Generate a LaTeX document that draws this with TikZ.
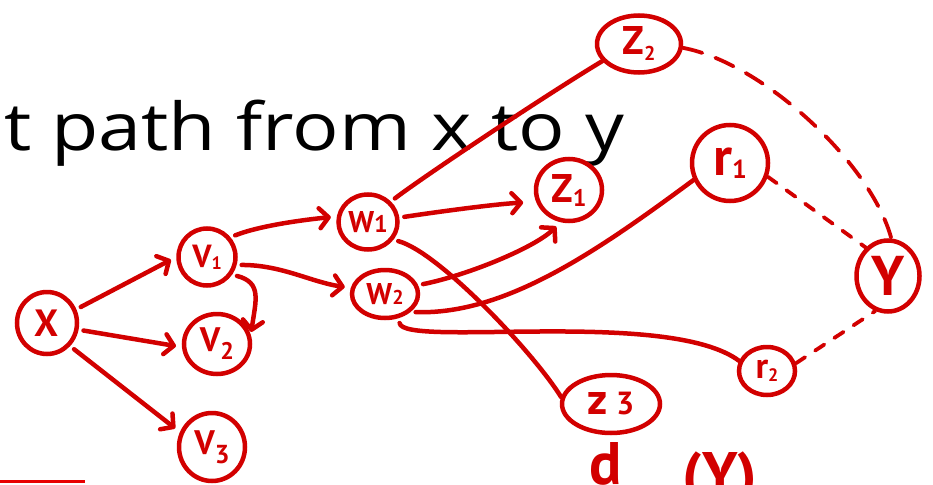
\documentclass[tikz,border=0pt]{standalone}
\usepackage{graphicx}
\usepackage{fontspec}
\setmainfont{Open Sans}
\newfontfamily\handfont{PT Sans}
\usetikzlibrary{arrows.meta,shapes.geometric}
\definecolor{ink}{RGB}{210,0,0}
\definecolor{rulered}{RGB}{232,0,0}
% lowered index digit: size, drop, text
\newcommand\dig[3]{\raisebox{-#2}{\fontsize{#1}{#1}\selectfont #3}}
% label text at a given size
\newcommand\lab[2]{\fontsize{#1}{#1}\selectfont #2}

\begin{document}
\begin{tikzpicture}[x=1pt,y=-1pt,
  vtx/.style={draw=ink, line width=4.5pt, ellipse, inner sep=0pt, text=ink, font=\handfont\bfseries},
  link/.style={draw=ink, line width=4.5pt, line cap=round, shorten <=5pt, shorten >=6pt},
  arr/.style={link, -{Straight Barb[length=9pt,width=20pt,round]}},
  dashlong/.style={draw=ink, line width=3.8pt, line cap=round, dash pattern=on 20pt off 14pt},
  dashshort/.style={draw=ink, line width=3.8pt, line cap=round, dash pattern=on 11pt off 12pt},
  hand/.style={anchor=base, inner sep=0pt, text=ink, font=\handfont\bfseries\fontsize{60}{60}\selectfont}
]
\useasboundingbox (0,0) rectangle (933,484);
\clip (0,0) rectangle (933,484);

% heading line
\node[anchor=base west, inner sep=0pt, font=\fontsize{66}{66}\selectfont] (title) at (4,150) {\scalebox{1.17}[1]{t path from x to y}};

% short rule at the lower left
\coordinate (ruleA) at (0,481);
\coordinate (ruleB) at (85,481);
\draw[rulered, line width=3pt] (ruleA) -- (ruleB);

% vertices
\node[vtx, minimum width=60pt, minimum height=62pt] (X) at (47,323) {\lab{38}{X}};
\node[vtx, minimum width=57pt, minimum height=57pt] (V1) at (207,257) {\lab{32}{V\dig{18}{2pt}{1}}};
\node[vtx, minimum width=66pt, minimum height=60pt] (V2) at (217,344) {\lab{34}{V\dig{24}{8pt}{2}}};
\node[vtx, minimum width=66pt, minimum height=68pt] (V3) at (212,447) {\lab{34}{V\dig{26}{9pt}{3}}};
\node[vtx, minimum width=59pt, minimum height=55pt] (W1) at (368,222) {\lab{30}{W\dig{24}{0pt}{1}}};
\node[vtx, minimum width=66pt, minimum height=48pt] (W2) at (385,294) {\lab{30}{W\dig{20}{0pt}{2}}};
\node[vtx, minimum width=66pt, minimum height=62pt] (Z1) at (569,190) {\lab{40}{Z\dig{24}{4pt}{1}}};
\node[vtx, minimum width=84pt, minimum height=57pt] (Z2) at (639,44) {\lab{40}{Z\dig{20}{6pt}{2}}};
\node[vtx, minimum width=98pt, minimum height=58pt] (Z3) at (611,404) {\lab{44}{z}\lab{32}{\hspace{8pt}3}};
\node[vtx, minimum width=76pt, minimum height=76pt] (R1) at (730,163) {\lab{54}{r\dig{26}{3pt}{1}}};
\node[vtx, minimum width=56pt, minimum height=48pt] (R2) at (767,371) {\lab{36}{r\dig{18}{3pt}{2}}};
\node[vtx, minimum width=63pt, minimum height=71pt] (Y) at (888,276) {\lab{56}{Y}};

% bottom formula fragment
\node[hand] (dsym) at (606,484) {d};
\node[hand] (ysym) at (720,494) {(Y)};

% arcs
\draw[arr] (X.25) -- (V1.180);
\draw[arr] (X.-12) -- (V2.185);
\draw[arr] (X.-45) -- (V3.155);
\draw[arr, shorten >=3pt] (V1.-35) .. controls +(30,8) and +(5,-35) .. (V2.15);
\draw[arr] (V1.40) .. controls +(30,-12) and +(-30,3) .. (W1.170);
\draw[arr] (V1.-15) .. controls +(45,0) and +(-40,-6) .. (W2.170);
\draw[arr, shorten >=13pt] (W1.8) .. controls +(40,-6) and +(-40,2) .. (Z1.200);
\draw[arr] (W2.15) .. controls +(50,-10) and +(-25,25) .. (Z1.255);
\draw[link, shorten >=0pt] (W1.42) .. controls +(40,-30) and +(-50,30) .. (Z2.205);
\draw[link, shorten >=0pt] (W1.-35) .. controls +(45,12) and +(-28,-45) .. (Z3.172);
\draw[link, shorten >=0pt] (W2.-35) .. controls +(95,3) and +(-96,71) .. (R1.205);
\draw[link, shorten >=0pt] (W2.-60) .. controls +(4,30) and +(-71,-53) .. (R2.160);

% dashed links into Y
\draw[dashlong] (Z2.-5) .. controls +(80,15) and +(-20,-75) .. (Y.85);
\draw[dashshort] (R1.-20) -- (Y.128);
\draw[dashshort] (R2.15) -- (Y.-110);
\end{tikzpicture}
\end{document}
